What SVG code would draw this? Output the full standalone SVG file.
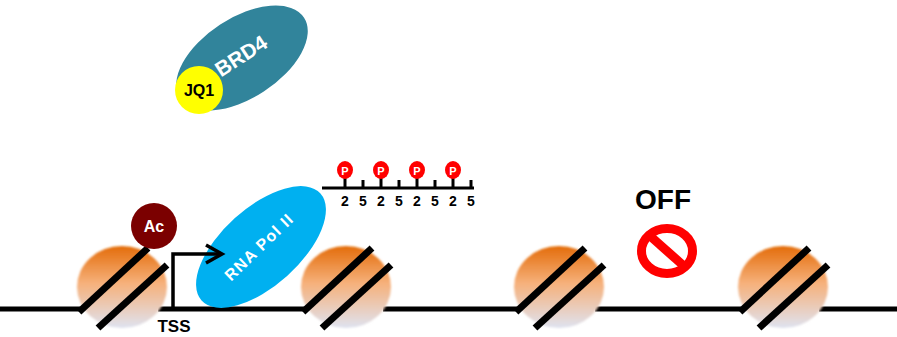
<svg xmlns="http://www.w3.org/2000/svg" width="897" height="337" viewBox="0 0 897 337">
  <defs>
    <linearGradient id="histone" x1="0" y1="0" x2="0" y2="1">
      <stop offset="0" stop-color="#e36c09"/>
      <stop offset="0.45" stop-color="#f6b07a"/>
      <stop offset="1" stop-color="#dfe3f0"/>
    </linearGradient>
    <filter id="soft" x="-10%" y="-10%" width="120%" height="120%">
      <feGaussianBlur stdDeviation="0.8"/>
    </filter>
    <g id="nucleosome">
      <ellipse cx="0" cy="0" rx="45" ry="41" fill="url(#histone)" filter="url(#soft)"/>
      <line x1="-43" y1="25" x2="26" y2="-39" class="dna"/>
      <line x1="-24" y1="41" x2="45" y2="-22" class="dna"/>
    </g>
  </defs>
  <style>
    .dna { stroke: #000; stroke-width: 7; fill: none; }
    .base { stroke: #000; stroke-width: 5; fill: none; }
    .lbl { font-family: "Liberation Sans", Arial, sans-serif; font-weight: bold; }
    .tick { stroke: #000; stroke-width: 3; }
    .num { font-family: "Liberation Sans", Arial, sans-serif; font-weight: bold; font-size: 14px; text-anchor: middle; }
    .pc { fill: #ff0000; }
    .pt { font-family: "Liberation Sans", Arial, sans-serif; font-weight: bold; font-size: 11px; fill: #fff; text-anchor: middle; }
  </style>

  <!-- DNA strand between nucleosomes -->
  <g id="connectors">
    <line x1="0" y1="309" x2="80" y2="309" class="base"/>
    <line x1="158" y1="309" x2="305" y2="309" class="base"/>
    <line x1="383" y1="309" x2="517" y2="309" class="base"/>
    <line x1="595" y1="309" x2="741" y2="309" class="base"/>
    <line x1="819" y1="309" x2="897" y2="309" class="base"/>
  </g>

  <!-- nucleosomes -->
  <g id="nuc1"><use href="#nucleosome" x="122" y="287"/></g>
  <g id="nuc2"><use href="#nucleosome" x="346" y="287"/></g>
  <g id="nuc3"><use href="#nucleosome" x="559" y="287"/></g>
  <g id="nuc4"><use href="#nucleosome" x="783" y="287"/></g>

  <!-- acetyl mark -->
  <g id="ac">
    <circle cx="154" cy="226" r="23" fill="#7b0000"/>
    <text x="154" y="232" class="lbl" font-size="16" fill="#fff" text-anchor="middle">Ac</text>
  </g>

  <!-- TSS label -->
  <g id="tss">
    <text x="174" y="332" class="lbl" font-size="17" fill="#000" text-anchor="middle">TSS</text>
  </g>

  <!-- RNA polymerase II -->
  <g id="polII">
    <ellipse cx="261" cy="247" rx="80" ry="39" transform="rotate(-42 261 247)" fill="#00b0f0"/>
    <text x="0" y="0" class="lbl" font-size="16" letter-spacing="1.2" fill="#fff" text-anchor="middle" transform="translate(263 251) rotate(-44)">RNA Pol II</text>
  </g>

  <!-- transcription start arrow -->
  <g id="tss-arrow">
    <polyline points="173,309 173,254 221,254" fill="none" stroke="#000" stroke-width="3.5"/>
    <polyline points="206,245 222,254 206,263" fill="none" stroke="#000" stroke-width="3.5"/>
  </g>

  <!-- BRD4 with JQ1 -->
  <g id="brd4">
    <ellipse cx="242" cy="58" rx="74" ry="40" transform="rotate(-33 242 58)" fill="#31849b"/>
    <text x="0" y="0" class="lbl" font-size="21" fill="#fff" text-anchor="middle" transform="translate(245 62) rotate(-33)">BRD4</text>
  </g>
  <g id="jq1">
    <circle cx="199" cy="90" r="24" fill="#ffff00"/>
    <text x="199" y="96" class="lbl" font-size="16" fill="#000" text-anchor="middle">JQ1</text>
  </g>

  <!-- CTD heptad repeats with phospho-serines -->
  <g id="ctd">
    <line x1="322" y1="188" x2="474" y2="188" class="tick"/>
    <line x1="345" y1="176" x2="345" y2="188" class="tick"/>
    <line x1="363" y1="180" x2="363" y2="188" class="tick"/>
    <line x1="381" y1="176" x2="381" y2="188" class="tick"/>
    <line x1="399" y1="180" x2="399" y2="188" class="tick"/>
    <line x1="417" y1="176" x2="417" y2="188" class="tick"/>
    <line x1="435" y1="180" x2="435" y2="188" class="tick"/>
    <line x1="453" y1="176" x2="453" y2="188" class="tick"/>
    <line x1="471" y1="180" x2="471" y2="188" class="tick"/>
    <ellipse cx="345" cy="170" rx="8" ry="9" class="pc"/>
    <ellipse cx="381" cy="170" rx="8" ry="9" class="pc"/>
    <ellipse cx="417" cy="170" rx="8" ry="9" class="pc"/>
    <ellipse cx="453" cy="170" rx="8" ry="9" class="pc"/>
    <text x="345" y="174.5" class="pt">P</text>
    <text x="381" y="174.5" class="pt">P</text>
    <text x="417" y="174.5" class="pt">P</text>
    <text x="453" y="174.5" class="pt">P</text>
    <text x="345" y="206" class="num">2</text>
    <text x="363" y="206" class="num">5</text>
    <text x="381" y="206" class="num">2</text>
    <text x="399" y="206" class="num">5</text>
    <text x="417" y="206" class="num">2</text>
    <text x="435" y="206" class="num">5</text>
    <text x="453" y="206" class="num">2</text>
    <text x="471" y="206" class="num">5</text>
  </g>

  <!-- OFF state -->
  <g id="off">
    <text x="663" y="209" class="lbl" font-size="28" fill="#000" text-anchor="middle">OFF</text>
    <ellipse cx="667" cy="251" rx="25.5" ry="22.5" fill="none" stroke="#ff0000" stroke-width="9"/>
    <line x1="649" y1="235" x2="685" y2="267" stroke="#ff0000" stroke-width="9"/>
  </g>
</svg>
